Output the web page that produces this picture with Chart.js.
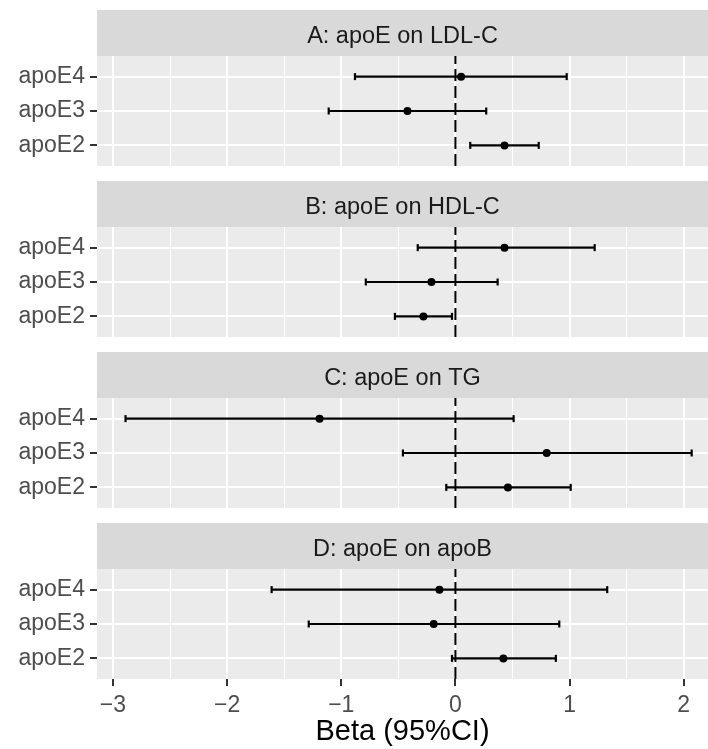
<!DOCTYPE html>
<html>
<head>
<meta charset="utf-8">
<script src="https://cdn.jsdelivr.net/npm/chart.js@4.4.0/dist/chart.umd.min.js"></script>
<style>
body { margin: 0; background: #fff; }
canvas { position: absolute; left: 0; }
</style>
</head>
<body>
<canvas id="panelA" width="708" height="156" style="top:10px"></canvas>
<canvas id="panelB" width="708" height="156" style="top:181px"></canvas>
<canvas id="panelC" width="708" height="156" style="top:352px"></canvas>
<canvas id="panelD" width="708" height="226" style="top:523px"></canvas>
<script>
// rows bottom to top: apoE2, apoE3, apoE4
const genes = ['apoE2', 'apoE3', 'apoE4'];
const xTicks = [-3, -2.5, -2, -1.5, -1, -0.5, 0, 0.5, 1, 1.5, 2];

const titleA = 'A: apoE on LDL-C';
const betaA  = [0.43, -0.42, 0.05];
const lowerA = [0.13, -1.11, -0.88];
const upperA = [0.73, 0.27, 0.975];

const titleB = 'B: apoE on HDL-C';
const betaB  = [-0.28, -0.21, 0.43];
const lowerB = [-0.53, -0.785, -0.33];
const upperB = [-0.03, 0.37, 1.22];

const titleC = 'C: apoE on TG';
const betaC  = [0.46, 0.80, -1.19];
const lowerC = [-0.08, -0.46, -2.89];
const upperC = [1.01, 2.07, 0.51];

const titleD = 'D: apoE on apoB';
const betaD  = [0.42, -0.19, -0.14];
const lowerD = [-0.03, -1.285, -1.61];
const upperD = [0.88, 0.91, 1.33];

Chart.defaults.font.family = '"Liberation Sans", Arial, sans-serif';

const panelBg = {
    id: 'panelBg',
    beforeDraw(chart) {
        const c = chart.ctx, a = chart.chartArea;
        c.save();
        c.fillStyle = '#EBEBEB';
        c.fillRect(a.left, a.top, a.right - a.left, a.bottom - a.top);
        c.fillStyle = '#D9D9D9';
        c.fillRect(a.left, 0, a.right - a.left, a.top);
        c.restore();
    }
};

function isMajor(v) { return Math.abs(v - Math.round(v)) < 1e-9; }

function makePanel(id, title, beta, lower, upper, last) {
    const datasets = [{
        data: [{x: 0, y: 0.4}, {x: 0, y: 3.6}],
        showLine: true,
        borderColor: '#000',
        borderWidth: 2,
        borderDash: [12, 5],
        pointRadius: 0
    }];
    for (let i = 0; i < genes.length; i++) {
        datasets.push({
            data: [{x: lower[i], y: i + 1}, {x: upper[i], y: i + 1}],
            showLine: true,
            borderColor: '#000',
            borderWidth: 2.2,
            pointStyle: 'line',
            pointRotation: 90,
            pointRadius: 3.5,
            pointBorderColor: '#000',
            pointBorderWidth: 2.2
        });
    }
    datasets.push({
        data: beta.map((b, i) => ({x: b, y: i + 1})),
        pointRadius: 4,
        pointBackgroundColor: '#000',
        pointBorderColor: '#000',
        pointBorderWidth: 0
    });

    new Chart(document.getElementById(id), {
        type: 'scatter',
        data: { datasets: datasets },
        plugins: [panelBg],
        options: {
            responsive: false,
            animation: false,
            events: [],
            layout: { padding: 0, autoPadding: false },
            plugins: {
                legend: { display: false },
                tooltip: { enabled: false },
                title: {
                    display: true,
                    text: title,
                    fullSize: false,
                    color: '#1A1A1A',
                    font: { size: 23.5, weight: 'normal', lineHeight: 1.0 },
                    padding: { top: 15, bottom: 7.5 }
                }
            },
            scales: {
                x: {
                    type: 'linear',
                    min: -3.14,
                    max: 2.213,
                    afterBuildTicks: s => { s.ticks = xTicks.map(v => ({value: v})); },
                    afterFit: s => {
                        s.height = last ? 70 : 0;
                        s.paddingLeft = 0;
                        s.paddingRight = 0;
                    },
                    border: { display: false },
                    grid: {
                        color: '#FFFFFF',
                        lineWidth: c => isMajor(c.tick.value) ? 2 : 1,
                        drawTicks: last,
                        tickLength: 7,
                        tickWidth: 2,
                        tickColor: c => isMajor(c.tick.value) ? '#333333' : 'rgba(0,0,0,0)'
                    },
                    ticks: {
                        display: last,
                        autoSkip: false,
                        maxRotation: 0,
                        padding: 6,
                        color: '#4D4D4D',
                        font: { size: 23 },
                        callback: v => isMajor(v) ? String(v).replace('-', '\u2212') : ''
                    },
                    title: {
                        display: last,
                        text: 'Beta (95%CI)',
                        color: '#000',
                        font: { size: 29 },
                        padding: { top: 0, bottom: 0 }
                    }
                },
                y: {
                    type: 'linear',
                    min: 0.4,
                    max: 3.6,
                    afterBuildTicks: s => { s.ticks = genes.map((g, i) => ({value: i + 1})); },
                    afterFit: s => {
                        s.width = 97;
                        s.paddingTop = 0;
                        s.paddingBottom = 0;
                    },
                    border: { display: false },
                    grid: {
                        color: '#FFFFFF',
                        lineWidth: 2,
                        tickLength: 7,
                        tickWidth: 2,
                        tickColor: '#333333'
                    },
                    ticks: {
                        padding: 5,
                        color: '#4D4D4D',
                        font: { size: 23 },
                        callback: v => genes[v - 1]
                    }
                }
            }
        }
    });
}

makePanel('panelA', titleA, betaA, lowerA, upperA, false);
makePanel('panelB', titleB, betaB, lowerB, upperB, false);
makePanel('panelC', titleC, betaC, lowerC, upperC, false);
makePanel('panelD', titleD, betaD, lowerD, upperD, true);
</script>
</body>
</html>
